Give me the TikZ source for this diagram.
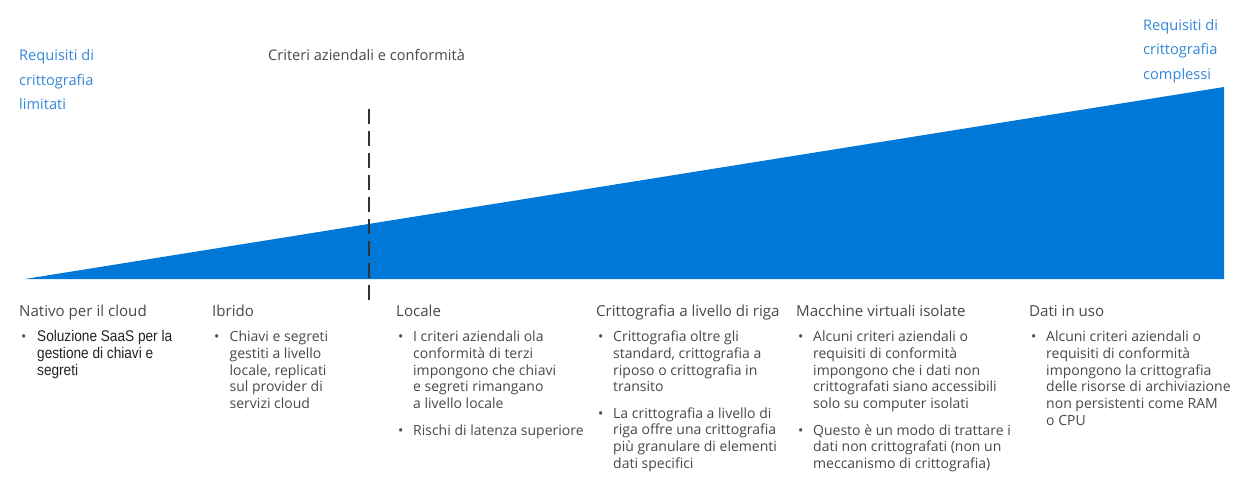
\documentclass[tikz,border=0pt]{standalone}
\usepackage{fontspec}
\setmainfont{Open Sans}
\newfontfamily\narrowfont{Liberation Sans}[FakeStretch=0.88]
\definecolor{triblue}{HTML}{0078D7}
\definecolor{lblblue}{HTML}{3387D8}
\definecolor{txtgray}{HTML}{484848}
\definecolor{dashgray}{HTML}{333333}
\definecolor{darktext}{HTML}{222222}
\tikzset{
  toplabel/.style={anchor=base west, inner sep=0pt, align=left, text=lblblue,
    font=\fontsize{14.6}{24.5}\selectfont},
  critlabel/.style={anchor=base west, inner sep=0pt, text=txtgray,
    font=\fontsize{14.6}{17}\selectfont},
  headlabel/.style={anchor=base west, inner sep=0pt, text=txtgray,
    font=\fontsize{15.1}{17}\selectfont},
  bodytext/.style={anchor=base west, inner sep=0pt, align=left, text=txtgray,
    font=\fontsize{14}{16.7}\selectfont},
  bulletmark/.style={anchor=base west, inner sep=0pt, text=txtgray,
    font=\fontsize{14}{16.7}\selectfont},
  divider/.style={draw=dashgray, line width=2pt, dash pattern=on 15.3pt off 6.7pt}
}
\begin{document}
\begin{tikzpicture}[x=1pt,y=-1pt]
\useasboundingbox (0,0) rectangle (1257,491);
% wedge
\fill[triblue] (25,279) -- (1224,87) -- (1224,279) -- cycle;
% divider
\coordinate (dtop) at (369,109);
\coordinate (dbot) at (369,300);
\draw[divider] (dtop) -- (dbot);
% top labels (anchor = baseline of last line)
\node[toplabel] (lim) at (19,109.5) {Requisiti di\\crittografia\\limitati};
\node[critlabel] (crit) at (268,60.5) {Criteri aziendali e conformità};
\node[toplabel] (comp) at (1143,79) {Requisiti di\\crittografia\\complessi};
% column headings
\node[headlabel] (h1) at (19,316) {Nativo per il cloud};
\node[headlabel] (h2) at (212,316) {Ibrido};
\node[headlabel] (h3) at (396,316) {Locale};
\node[headlabel] (h4) at (596,316) {Crittografia a livello di riga};
\node[headlabel] (h5) at (796,316) {Macchine virtuali isolate};
\node[headlabel] (h6) at (1029,316) {Dati in uso};
% column 1
\node[bulletmark] (b1a) at (21,341.7) {•};
\node[bodytext, text=darktext, font=\narrowfont\fontsize{15.5}{16.7}\selectfont] (t1a) at (37,375.1) {Soluzione SaaS per la\\gestione di chiavi e\\segreti};
% column 2
\node[bulletmark] (b2a) at (214,341.7) {•};
\node[bodytext] (t2a) at (229.5,408.5) {Chiavi e segreti\\gestiti a livello\\locale, replicati\\sul provider di\\servizi cloud};
% column 3
\node[bulletmark] (b3a) at (398,341.7) {•};
\node[bodytext] (t3a) at (413,408.5) {I criteri aziendali ola\\conformità di terzi\\impongono che chiavi\\e segreti rimangano\\a livello locale};
\node[bulletmark] (b3b) at (398,435) {•};
\node[bodytext] (t3b) at (413,435) {Rischi di latenza superiore};
% column 4
\node[bulletmark] (b4a) at (598,341.7) {•};
\node[bodytext] (t4a) at (613,391.8) {Crittografia oltre gli\\standard, crittografia a\\riposo o crittografia in\\transito};
\node[bulletmark] (b4b) at (598,418) {•};
\node[bodytext] (t4b) at (613,468.1) {La crittografia a livello di\\riga offre una crittografia\\più granulare di elementi\\dati specifici};
% column 5
\node[bulletmark] (b5a) at (798,341.7) {•};
\node[bodytext] (t5a) at (813,408.5) {Alcuni criteri aziendali o\\requisiti di conformità\\impongono che i dati non\\crittografati siano accessibili\\solo su computer isolati};
\node[bulletmark] (b5b) at (798,435) {•};
\node[bodytext] (t5b) at (813,468.4) {Questo è un modo di trattare i\\dati non crittografati (non un\\meccanismo di crittografia)};
% column 6
\node[bulletmark] (b6a) at (1031,341.7) {•};
\node[bodytext] (t6a) at (1046,425.2) {Alcuni criteri aziendali o\\requisiti di conformità\\impongono la crittografia\\delle risorse di archiviazione\\non persistenti come RAM\\o CPU};
\end{tikzpicture}
\end{document}
